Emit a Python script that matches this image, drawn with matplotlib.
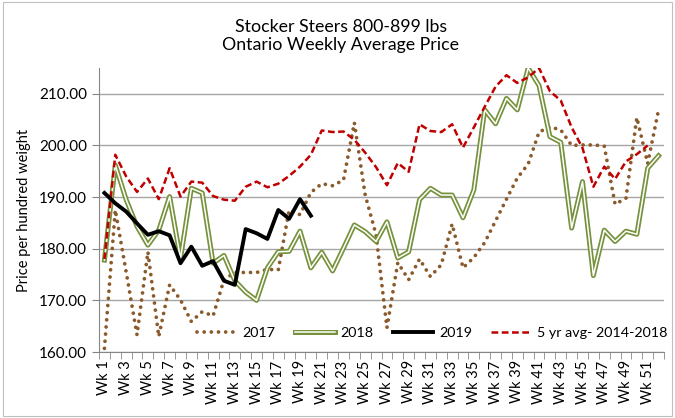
import numpy as np
import matplotlib.pyplot as plt
from matplotlib.patches import Rectangle
from matplotlib.legend_handler import HandlerTuple

plt.rcParams['font.family'] = ['Lato', 'DejaVu Sans']

# weekly prices ($ per cwt)
weeks = ["Wk %d" % i for i in range(1, 53)]

p2017 = [160.7, 187.5, 175.5, 163.3, 179.4, 163.0, 173.0, 170.1, 165.9, 167.8,
         167.0, 174.0, 175.4, 175.4, 175.4, 176.0, 175.9, 187.5, 186.6, 190.9,
         192.6, 192.2, 193.3, 204.4, 190.4, 182.7, 164.7, 177.3, 174.0, 178.0,
         174.6, 176.9, 184.8, 176.3, 178.3, 181.2, 185.4, 189.6, 193.7, 196.4,
         202.6, 203.6, 203.0, 200.0, 200.1, 200.1, 199.9, 188.6, 189.8, 205.4,
         196.5, 206.9]

p2018 = [177.8, 196.2, 189.5, 184.3, 180.7, 183.6, 190.1, 178.1, 191.7, 190.8,
         177.2, 178.7, 173.8, 171.6, 170.0, 176.3, 179.4, 179.5, 183.4, 176.3,
         179.3, 175.7, 180.1, 184.6, 183.3, 181.4, 185.2, 178.2, 179.4, 189.5,
         191.7, 190.4, 190.4, 186.0, 191.4, 206.9, 204.2, 209.1, 206.9, 215.0,
         211.6, 201.7, 200.6, 184.0, 193.0, 174.8, 183.6, 181.4, 183.4, 182.8,
         195.6, 198.0]

p2019 = [190.8, 188.8, 187.2, 184.9, 182.7, 183.4, 182.6, 177.2, 180.4, 176.7,
         177.6, 173.8, 173.0, 183.8, 183.0, 181.9, 187.5, 185.8, 189.6, 186.4]

avg5 = [178.0, 198.2, 194.0, 191.0, 193.6, 189.6, 195.6, 190.1, 193.0, 192.8,
        190.2, 189.5, 189.3, 192.0, 193.0, 191.9, 192.6, 194.1, 195.9, 198.2,
        202.9, 202.6, 202.7, 201.1, 198.6, 195.8, 192.3, 196.6, 194.9, 204.1,
        202.8, 202.6, 204.1, 199.6, 203.5, 207.5, 211.4, 213.6, 212.1, 213.2,
        215.0, 210.5, 208.7, 203.5, 199.5, 192.0, 195.9, 193.5, 196.9, 198.3,
        200.0]

fig = plt.figure(figsize=(6.75, 4.18), dpi=100)
ax = fig.add_axes([99 / 675, 1 - 352 / 418, 565 / 675, 284 / 418])

brown = '#8B5A2B'
green = '#76923C'
red = '#C00000'

l17, = ax.plot(range(len(p2017)), p2017, color=brown, lw=2.7,
               linestyle=(0, (0.01, 1.9)), dash_capstyle='round', zorder=3)
g_out, = ax.plot(range(len(p2018)), p2018, color=green, lw=3.6, zorder=4)
g_in, = ax.plot(range(len(p2018)), p2018, color='white', lw=1.1, zorder=4)
l19, = ax.plot(range(len(p2019)), p2019, color='black', lw=2.8, zorder=6)
lav, = ax.plot(range(len(avg5)), avg5, color=red, lw=1.8,
               linestyle=(0, (2.7, 1.4)), zorder=5)

ax.set_xlim(-0.5, 51.5)
ax.set_ylim(160, 215)
ax.set_yticks(np.arange(160, 211, 10))
ax.set_yticklabels(["%.2f" % v for v in np.arange(160, 211, 10)], fontsize=11)
ax.set_xticks(range(0, 52, 2))
ax.set_xticklabels(weeks[::2], rotation=90, fontsize=10.5)
ax.set_xticks(np.arange(-0.5, 52, 1), minor=True)
ax.tick_params(axis='x', which='major', length=0, pad=6)
ax.tick_params(axis='x', which='minor', length=5, color='#868686')
ax.tick_params(axis='y', length=5, color='#868686')
ax.grid(axis='y', color='#A6A6A6', lw=1)
ax.set_axisbelow(True)
for s in ['top', 'right']:
    ax.spines[s].set_visible(False)
for s in ['left', 'bottom']:
    ax.spines[s].set_color('#868686')

ax.set_ylabel("Price per hundred weight", fontsize=10.5, labelpad=6)
fig.text(0.505, 0.955, "Stocker Steers 800-899 lbs\nOntario Weekly Average Price",
         ha='center', va='top', fontsize=12.8, linespacing=1.2)

ax.legend([l17, (g_out, g_in), l19, lav],
          ["2017", "2018", "2019", "5 yr avg- 2014-2018"],
          handler_map={tuple: HandlerTuple(ndivide=1)},
          loc='center right', bbox_to_anchor=(1.019, 0.067), ncol=4, frameon=False,
          borderpad=0, fontsize=10.3, handlelength=2.8, columnspacing=1.35,
          handletextpad=0.4)

fig.patches.append(Rectangle((0.004, 0.004), 0.992, 0.992, transform=fig.transFigure,
                             fill=False, edgecolor='#BFBFBF', lw=0.8))

fig.savefig("out.png", dpi=100)
